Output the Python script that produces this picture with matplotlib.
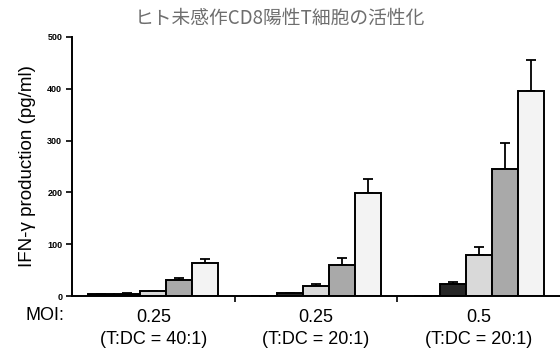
import numpy as np
import matplotlib
matplotlib.use("Agg")
import matplotlib.pyplot as plt

plt.rcParams["font.family"] = ["Liberation Sans", "DejaVu Sans"]

# ---- データ ----
TITLE = "ヒト未感作CD8陽性T細胞の活性化"
MOI = ["0.25", "0.25", "0.5"]
RATIO = ["(T:DC = 40:1)", "(T:DC = 20:1)", "(T:DC = 20:1)"]
s1 = [3, 0, 0]
s2 = [4, 5, 24]
s3 = [9, 20, 80]
s4 = [30, 60, 246]
s5 = [63, 198, 396]
e1 = [0, 0, 0]
e2 = [1, 1, 3]
e3 = [1, 4, 15]
e4 = [5, 13, 50]
e5 = [9, 28, 60]
YTICKS = [0, 100, 200, 300, 400, 500]

SERIES = [s1, s2, s3, s4, s5]
ERRS = [e1, e2, e3, e4, e5]
COLORS = ["#111111", "#262626", "#d9d9d9", "#a9a9a9", "#f3f3f3"]

fig = plt.figure(figsize=(5.6, 3.52), dpi=100)
ax = fig.add_axes([72 / 560, 1 - 296 / 352, 1 - 72 / 560, (296 - 37) / 352])

x = np.arange(len(MOI))
w = 0.16
for i, (vals, err, c) in enumerate(zip(SERIES, ERRS, COLORS)):
    xs = x + (i - 2) * w
    ax.bar(xs, vals, w, color=c, edgecolor="black", linewidth=1.4, zorder=2)
    ax.errorbar(xs, vals, yerr=[[0] * len(vals), err], fmt="none", ecolor="black",
                elinewidth=1.3, capsize=3.5, capthick=1.3, zorder=1)

ax.set_xlim(-0.5, 2.5)
ax.set_ylim(0, 500)
ax.set_yticks(YTICKS)
ax.tick_params(axis="y", labelsize=6.5, length=4, width=1.2, pad=3)
for t in ax.get_yticklabels():
    t.set_fontweight("bold")
ax.set_xticks(x)
ax.set_xticklabels([f"{m}\n{r}" for m, r in zip(MOI, RATIO)], fontsize=13,
                   linespacing=1.4)
ax.tick_params(axis="x", which="major", length=0, pad=9)
ax.set_xticks([0.5, 1.5], minor=True)
ax.tick_params(axis="x", which="minor", length=4, width=1.2)
for s in ("top", "right"):
    ax.spines[s].set_visible(False)
for s in ("left", "bottom"):
    ax.spines[s].set_linewidth(1.4)

ax.set_ylabel("IFN-γ production (pg/ml)", fontsize=13.5, labelpad=8)
fig.text(45 / 560, 1 - 316 / 352, "MOI:", fontsize=13, ha="center", va="center")
fig.text(0.5, 1 - 18 / 352, TITLE, family=["Noto Sans CJK JP", "DejaVu Sans"],
         fontsize=13.5, color="#6e6e6e", ha="center", va="center")

fig.savefig("out.png", dpi=100, facecolor="white")
